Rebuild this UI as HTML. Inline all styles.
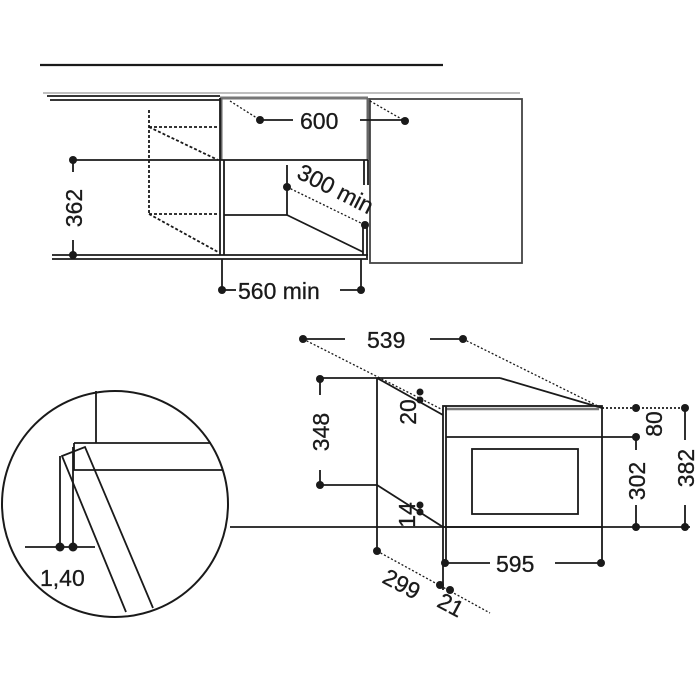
<!DOCTYPE html>
<html><head><style>
html,body{margin:0;padding:0;background:#fff;width:700px;height:700px;overflow:hidden}
svg text{font-family:"Liberation Sans",Arial,sans-serif;font-size:23px;fill:#1a1a1a;stroke:#1a1a1a;stroke-width:0.3}
</style></head><body>
<svg width="700" height="700" viewBox="0 0 700 700" xmlns="http://www.w3.org/2000/svg">
<g stroke="#1a1a1a" stroke-width="1.8" fill="none">
<!-- top section -->
<line x1="40" y1="65" x2="443" y2="65" stroke-width="2.2"/>
<line x1="43" y1="93" x2="520" y2="93" stroke="#999" stroke-width="1.3"/>
<line x1="47" y1="96" x2="220" y2="96"/>
<line x1="50" y1="100" x2="220" y2="100"/>
<line x1="220" y1="98" x2="368" y2="98" stroke="#777" stroke-width="3"/>
<line x1="221" y1="98" x2="221" y2="160" stroke="#666" stroke-width="3"/>
<line x1="368" y1="98" x2="368" y2="160" stroke="#666" stroke-width="3"/>
<line x1="220" y1="98" x2="220" y2="255"/>
<line x1="224" y1="160" x2="224" y2="255"/>
<rect x="370" y="99" width="152" height="164" stroke="#444"/>
<line x1="72" y1="160" x2="368" y2="160"/>
<line x1="364" y1="160" x2="364" y2="185"/><line x1="368" y1="160" x2="368" y2="185"/>
<line x1="230" y1="101" x2="260" y2="120" stroke-dasharray="2,2" stroke-width="1.3"/>
<line x1="370" y1="101" x2="405" y2="121" stroke-dasharray="2,2" stroke-width="1.3"/>
<line x1="260" y1="120" x2="293" y2="120"/><line x1="360" y1="120" x2="405" y2="120"/>
<!-- dashed -->
<g stroke-dasharray="3,2" stroke-width="1.8">
<line x1="149" y1="110" x2="149" y2="213"/>
<line x1="149" y1="127" x2="218" y2="127"/>
<line x1="149" y1="127" x2="218" y2="160"/>
<line x1="149" y1="214" x2="218" y2="214"/>
<line x1="149" y1="214" x2="218" y2="252"/>
</g>
<line x1="224" y1="215" x2="287" y2="215"/>
<line x1="287" y1="165" x2="287" y2="215"/>
<line x1="287" y1="215" x2="363" y2="252"/>
<line x1="363" y1="225" x2="363" y2="255"/><line x1="367" y1="225" x2="367" y2="258"/>
<line x1="287" y1="187" x2="365" y2="225" stroke-dasharray="2,2" stroke-width="1.3"/>
<line x1="52" y1="255" x2="368" y2="255"/>
<line x1="52" y1="259" x2="368" y2="259"/>
<line x1="73" y1="160" x2="73" y2="172"/><line x1="73" y1="240" x2="73" y2="255"/>
<line x1="222" y1="259" x2="222" y2="290"/><line x1="361" y1="259" x2="361" y2="290"/>
<line x1="222" y1="290" x2="236" y2="290"/><line x1="340" y1="290" x2="361" y2="290"/>
<!-- bottom right -->
<line x1="303" y1="339" x2="443" y2="410" stroke-dasharray="2,2" stroke-width="1.3"/>
<line x1="463" y1="339" x2="602" y2="408" stroke-dasharray="2,2" stroke-width="1.3"/>
<line x1="303" y1="339" x2="345" y2="339"/><line x1="430" y1="339" x2="463" y2="339"/>
<line x1="320" y1="378" x2="500" y2="378"/>
<line x1="500" y1="378" x2="602" y2="408"/>
<line x1="377" y1="378" x2="377" y2="550"/>
<line x1="377" y1="378" x2="443" y2="415"/>
<line x1="377" y1="485" x2="443" y2="527"/>
<line x1="320" y1="485" x2="377" y2="485"/>
<rect x="443" y="406" width="159" height="121"/>
<line x1="446" y1="409" x2="599" y2="409" stroke="#777" stroke-width="2.4"/>
<line x1="446" y1="406" x2="446" y2="527"/>
<line x1="446" y1="437" x2="636" y2="437"/>
<rect x="472" y="449" width="106" height="65"/>
<line x1="230" y1="527" x2="690" y2="527"/>
<line x1="602" y1="408" x2="685" y2="408" stroke-dasharray="2,2"/>
<line x1="320" y1="379" x2="320" y2="395"/><line x1="320" y1="470" x2="320" y2="485"/>
<line x1="636" y1="437" x2="636" y2="450"/><line x1="636" y1="505" x2="636" y2="527"/>
<line x1="685" y1="408" x2="685" y2="440"/><line x1="685" y1="505" x2="685" y2="527"/>
<line x1="443" y1="527" x2="443" y2="590"/><line x1="446" y1="527" x2="446" y2="563"/>
<line x1="602" y1="527" x2="602" y2="563"/>
<line x1="445" y1="563" x2="490" y2="563"/><line x1="555" y1="563" x2="601" y2="563"/>
<line x1="377" y1="551" x2="490" y2="613" stroke-dasharray="2,2" stroke-width="1.3"/>
<!-- circle -->
<circle cx="115" cy="504" r="113" stroke-width="2"/>
<line x1="96" y1="391" x2="96" y2="443"/>
<line x1="74" y1="443" x2="211" y2="443"/>
<line x1="73" y1="470" x2="222" y2="470"/>
<line x1="74" y1="443" x2="74" y2="470"/>
<polyline points="126,612 62,456 85,447 153,608"/>
<line x1="60" y1="456" x2="60" y2="547"/><line x1="73" y1="447" x2="73" y2="547"/>
<line x1="25" y1="547" x2="95" y2="547"/>
</g>
<g fill="#1a1a1a">
<circle cx="260" cy="120" r="4"/><circle cx="405" cy="121" r="4"/>
<circle cx="73" cy="160" r="4"/><circle cx="73" cy="255" r="4"/>
<circle cx="287" cy="187" r="4"/><circle cx="365" cy="225" r="4"/>
<circle cx="222" cy="290" r="4"/><circle cx="361" cy="290" r="4"/>
<circle cx="303" cy="339" r="4"/><circle cx="463" cy="339" r="4"/>
<circle cx="320" cy="379" r="4"/><circle cx="320" cy="485" r="4"/>
<circle cx="420" cy="392" r="3.5"/><circle cx="420" cy="400" r="3.5"/>
<circle cx="420" cy="505" r="3.5"/><circle cx="420" cy="512" r="3.5"/>
<circle cx="636" cy="408" r="4"/><circle cx="685" cy="408" r="4"/>
<circle cx="636" cy="437" r="4"/><circle cx="636" cy="527" r="4"/><circle cx="685" cy="527" r="4"/>
<circle cx="445" cy="563" r="4"/><circle cx="601" cy="563" r="4"/>
<circle cx="377" cy="551" r="4"/><circle cx="440" cy="585" r="4"/><circle cx="450" cy="590" r="4"/>
<circle cx="60" cy="547" r="4.5"/><circle cx="73" cy="547" r="4.5"/>
</g>
<text x="300" y="129">600</text>
<text transform="translate(82,208) rotate(-90)" text-anchor="middle">362</text>
<text transform="translate(332,196) rotate(27)" text-anchor="middle">300 min</text>
<text x="238" y="299">560 min</text>
<text x="367" y="348">539</text>
<text transform="translate(329,432) rotate(-90)" text-anchor="middle">348</text>
<text transform="translate(416,412) rotate(-90)" text-anchor="middle">20</text>
<text transform="translate(415,515) rotate(-90)" text-anchor="middle">14</text>
<text transform="translate(662,424) rotate(-90)" text-anchor="middle">80</text>
<text transform="translate(645,481) rotate(-90)" text-anchor="middle">302</text>
<text transform="translate(694,468) rotate(-90)" text-anchor="middle">382</text>
<text x="496" y="572">595</text>
<text transform="translate(398,591) rotate(28)" text-anchor="middle">299</text>
<text transform="translate(447,612) rotate(28)" text-anchor="middle">21</text>
<text x="40" y="586">1,40</text>
</svg>
</body></html>
